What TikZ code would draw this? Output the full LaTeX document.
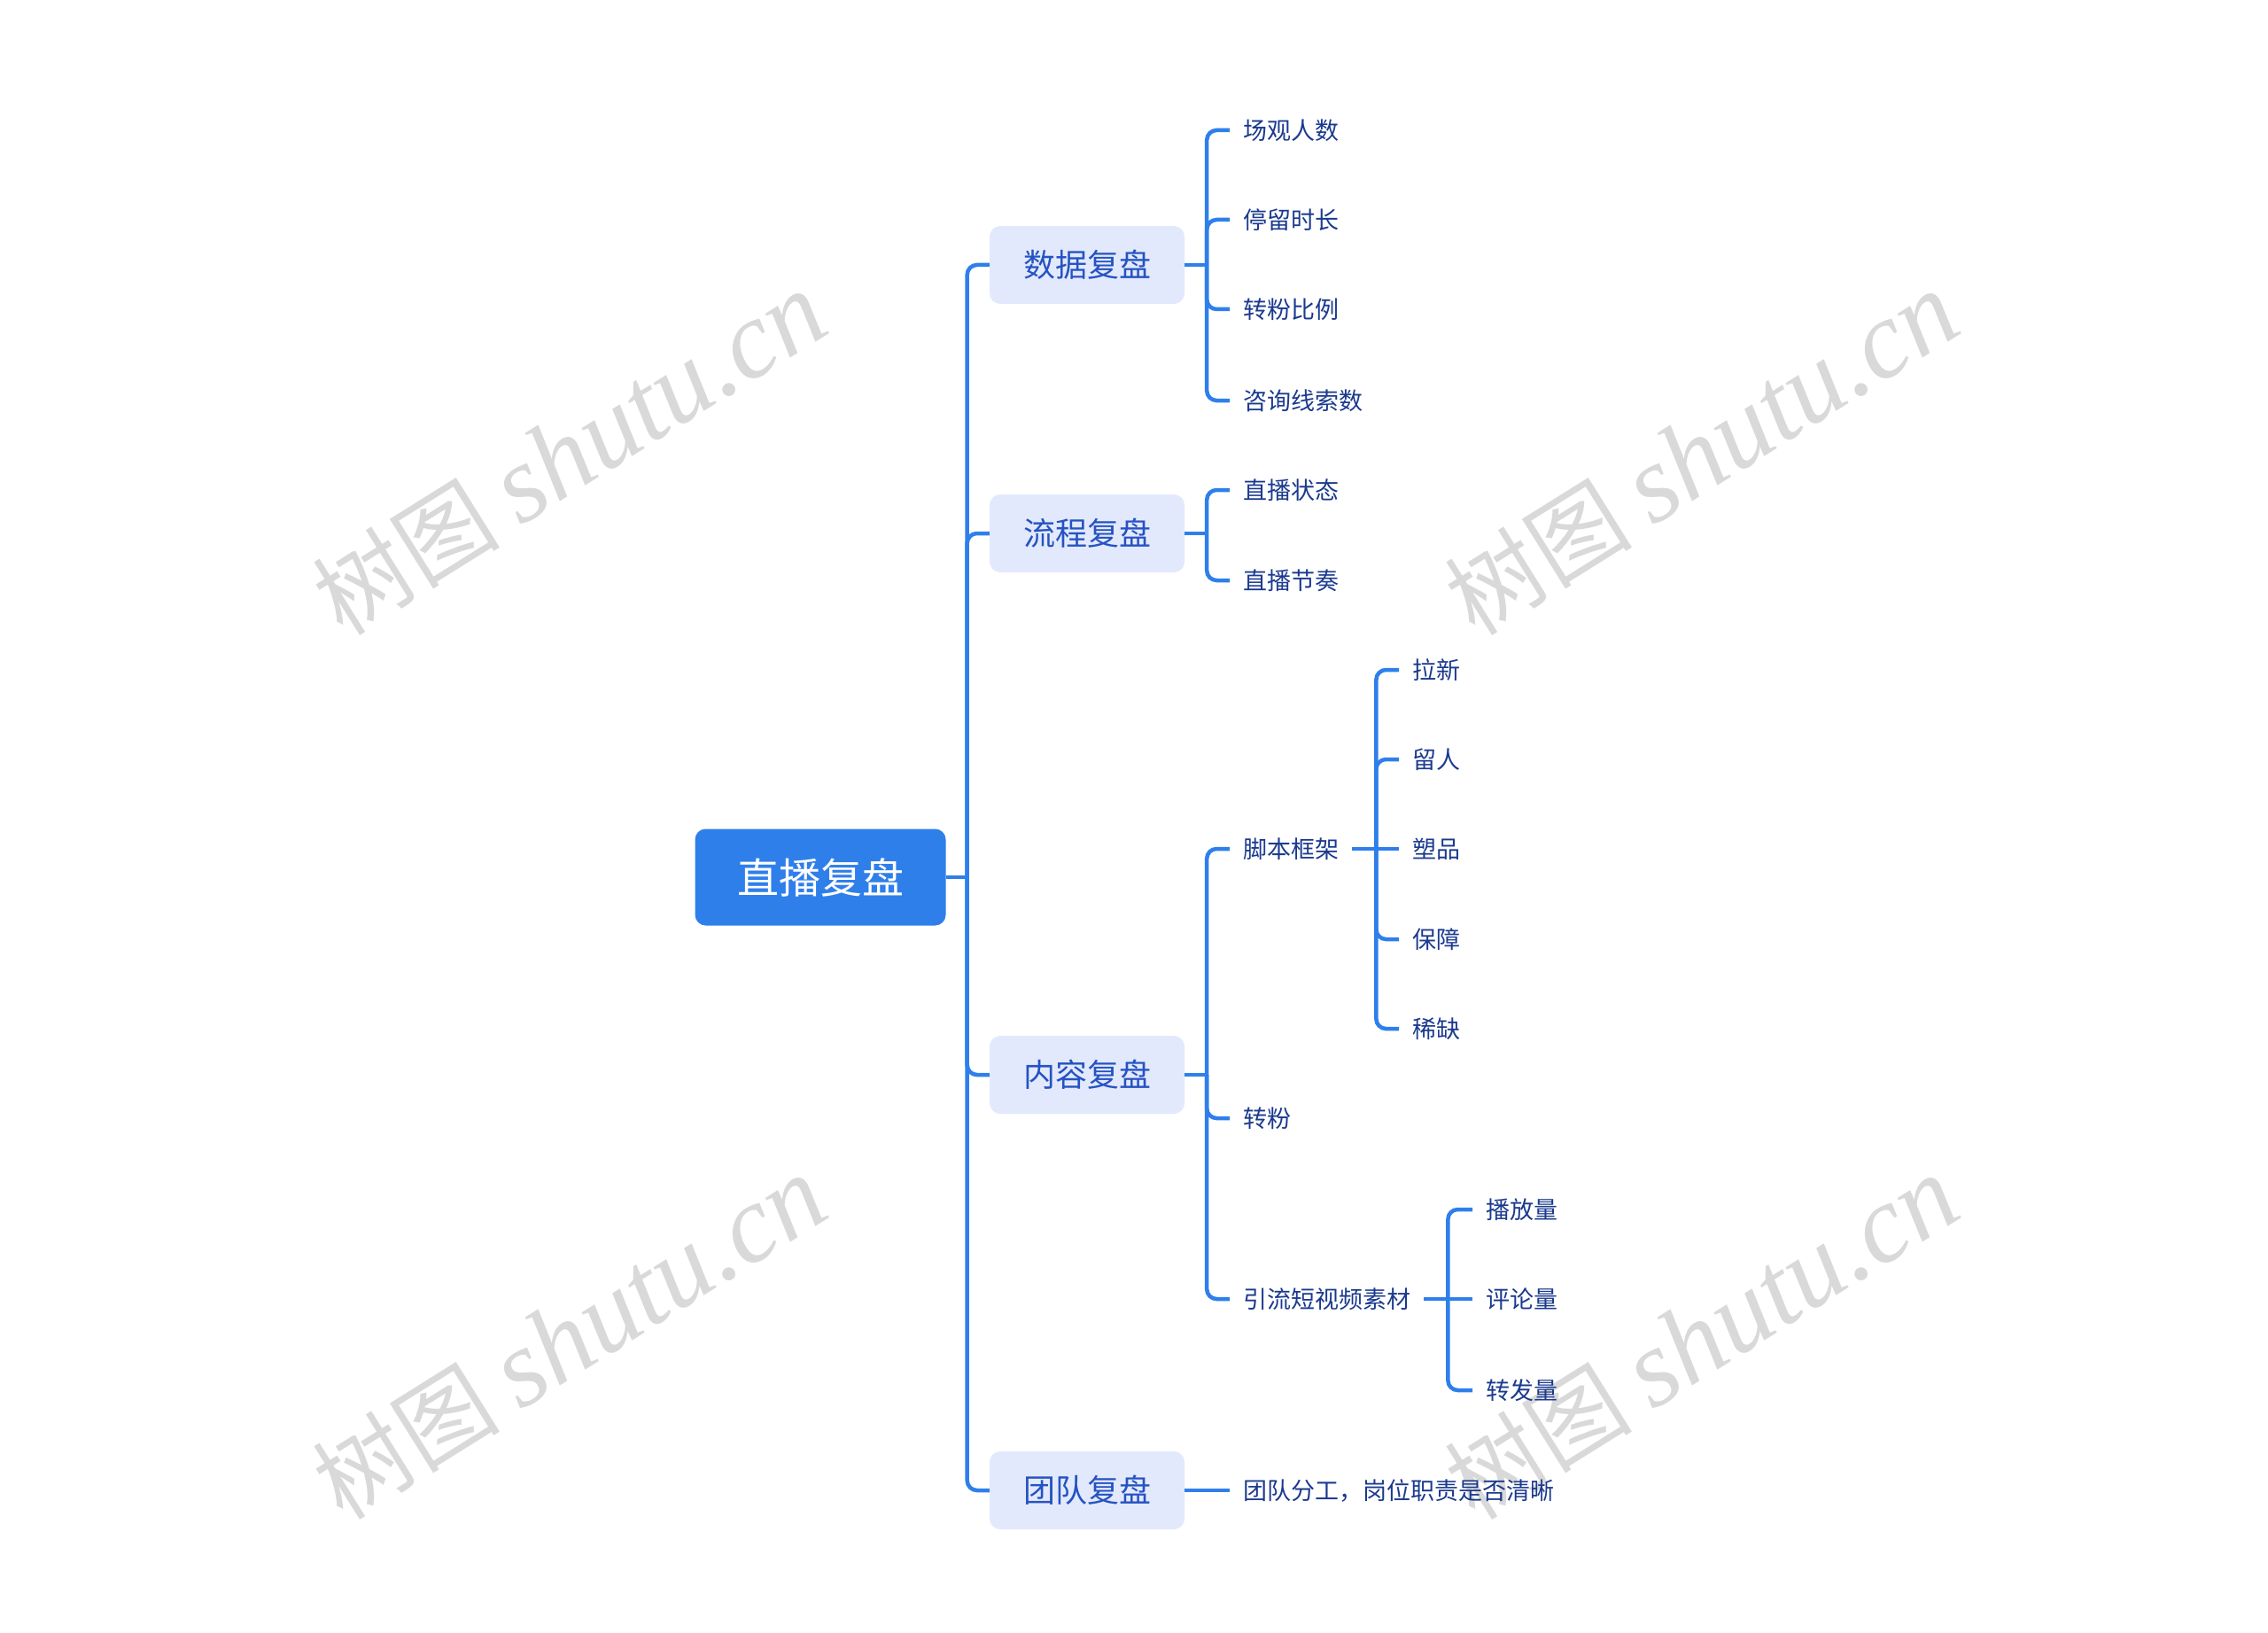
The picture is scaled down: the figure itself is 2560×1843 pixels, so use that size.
\documentclass[tikz,border=0pt]{standalone}
\usepackage{fontspec}
\newfontfamily\cjk{Noto Sans CJK SC}
\newfontfamily\wmserif{Liberation Serif}
\definecolor{linec}{HTML}{2F7FEB}
\definecolor{rootc}{HTML}{2F7FEB}
\definecolor{boxc}{HTML}{E3E9FD}
\definecolor{lvltext}{HTML}{2553C2}
\definecolor{leaftext}{HTML}{1B3A8E}
\definecolor{wmc}{HTML}{D9D9D9}
\newcommand{\wmtext}{\cjk\fontsize{106}{106}\selectfont 树图\ \wmserif\itshape\fontsize{124}{124}\selectfont shutu.cn}
\begin{document}
\begin{tikzpicture}[x=1pt,y=-1pt,
  conn/.style={draw=linec,line width=4.5pt,rounded corners=11pt},
  rootbox/.style={fill=rootc,rounded corners=12pt,minimum width=283pt,minimum height=109pt,inner sep=0pt,text=white,font=\cjk\fontsize{47}{47}\selectfont},
  lvlbox/.style={fill=boxc,rounded corners=12pt,minimum width=220pt,minimum height=88pt,inner sep=0pt,text=lvltext,font=\cjk\fontsize{36}{36}\selectfont},
  leaf/.style={anchor=west,inner xsep=15pt,inner ysep=4pt,text=leaftext,font=\cjk\fontsize{27}{27}\selectfont},
  wm/.style={text=wmc,rotate=32,inner sep=0pt}
]
\useasboundingbox (0,0) rectangle (2560,1843);
% watermarks
\node[wm] (w1) at (643,512) {\wmtext};
\node[wm] (w2) at (1921,512) {\wmtext};
\node[wm] (w3) at (643,1510) {\wmtext};
\node[wm] (w4) at (1921,1510) {\wmtext};

% root and level 1
\node[rootbox] (root) at (926,990) {直播复盘};
\node[lvlbox] (d1) at (1227,299) {数据复盘};
\node[lvlbox] (d2) at (1227,602) {流程复盘};
\node[lvlbox] (d3) at (1227,1213) {内容复盘};
\node[lvlbox] (d4) at (1227,1682) {团队复盘};

% level 2
\node[leaf] (c11) at (1388,147) {场观人数};
\node[leaf] (c12) at (1388,248) {停留时长};
\node[leaf] (c13) at (1388,349) {转粉比例};
\node[leaf] (c14) at (1388,452) {咨询线索数};
\node[leaf] (c21) at (1388,553) {直播状态};
\node[leaf] (c22) at (1388,655) {直播节奏};
\node[leaf] (c31) at (1388,958) {脚本框架};
\node[leaf] (c32) at (1388,1262) {转粉};
\node[leaf] (c33) at (1388,1466) {引流短视频素材};
\node[leaf] (c41) at (1388,1682) {团队分工，岗位职责是否清晰};

% level 3
\node[leaf] (e1) at (1579,756) {拉新};
\node[leaf] (e2) at (1579,857) {留人};
\node[leaf] (e3) at (1579,958) {塑品};
\node[leaf] (e4) at (1579,1060) {保障};
\node[leaf] (e5) at (1579,1161) {稀缺};
\node[leaf] (f1) at (1662,1365) {播放量};
\node[leaf] (f2) at (1662,1466) {评论量};
\node[leaf] (f3) at (1662,1569) {转发量};

% junctions
\coordinate (jr) at ([xshift=24pt]root.east);
\coordinate (j1) at ([xshift=25pt]d1.east);
\coordinate (j2) at ([xshift=25pt]d2.east);
\coordinate (j3) at ([xshift=25pt]d3.east);
\coordinate (j31) at ([xshift=27pt]c31.east);
\coordinate (j33) at ([xshift=27pt]c33.east);

% connectors
\draw[conn] (root.east) -- (jr);
\foreach \t in {d1,d2,d3,d4} \draw[conn] (jr) |- (\t.west);
\draw[conn] (d1.east) -- (j1);
\foreach \t in {c11,c12,c13,c14} \draw[conn] (j1) |- (\t.west);
\draw[conn] (d2.east) -- (j2);
\foreach \t in {c21,c22} \draw[conn] (j2) |- (\t.west);
\draw[conn] (d3.east) -- (j3);
\foreach \t in {c31,c32,c33} \draw[conn] (j3) |- (\t.west);
\draw[conn] (d4.east) -- (c41.west);
\draw[conn] (c31.east) -- (e3.west);
\foreach \t in {e1,e2,e4,e5} \draw[conn] (j31) |- (\t.west);
\draw[conn] (c33.east) -- (f2.west);
\foreach \t in {f1,f3} \draw[conn] (j33) |- (\t.west);
\end{tikzpicture}
\end{document}
